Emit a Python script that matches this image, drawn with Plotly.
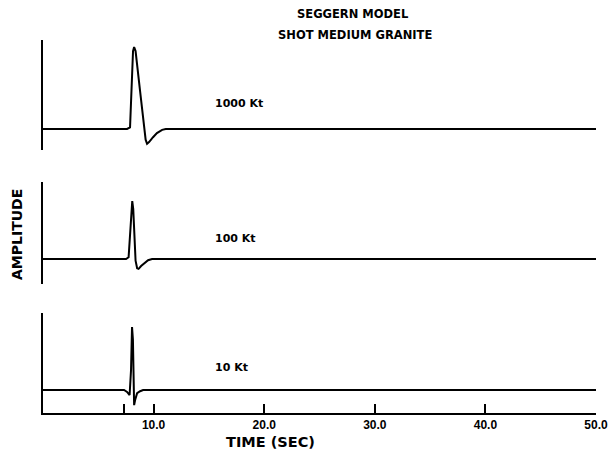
import plotly.graph_objects as go

# ---- data (normalized amplitude, peak = 1) ----
time_1000 = [0, 7.60, 7.87, 8.00, 8.14, 8.24, 8.37, 8.78, 9.14, 9.28, 9.41, 9.59, 9.95, 10.3, 10.77, 11.1, 50]
amp_1000  = [0, 0.00, 0.02, 0.49, 0.95, 1.00, 0.95, 0.46, 0.03, -0.13, -0.18, -0.16, -0.10, -0.05, -0.01, 0.0, 0]

time_100 = [0, 7.51, 7.74, 7.87, 8.00, 8.07, 8.16, 8.28, 8.37, 8.51, 8.64, 8.87, 9.14, 9.50, 9.86, 50]
amp_100  = [0, 0.00, 0.03, 0.43, 0.95, 1.00, 0.86, 0.26, -0.03, -0.16, -0.17, -0.12, -0.07, -0.02, 0.0, 0]

time_10 = [0, 7.33, 7.60, 7.83, 7.96, 8.05, 8.13, 8.17, 8.24, 8.33, 8.51, 8.78, 9.05, 50]
amp_10  = [0, 0.00, -0.03, -0.08, 0.32, 1.00, 0.80, -0.08, -0.24, -0.16, -0.05, -0.02, 0.0, 0]

series_labels = ["1000 Kt", "100 Kt", "10 Kt"]
tick_vals = [7.3, 10, 20, 30, 40, 50]
tick_text = ["", "10.0", "20.0", "30.0", "40.0", "50.0"]

FONT = "DejaVu Sans"
TFONT = "Liberation Sans"
LW = 2

L, R, T, B = 43, 17, 38, 43
W, H = 613, 456
PW, PH = W - L - R, H - T - B   # plot area size (553 x 375)

def px_x(x):   # page pixel -> paper x
    return (x - 43) / PW

def px_y(y):   # page pixel -> paper y
    return (413 - y) / PH

fig = go.Figure()
series = [(time_1000, amp_1000, "y"), (time_100, amp_100, "y2"), (time_10, amp_10, "y3")]
for t, a, ya in series:
    fig.add_trace(go.Scatter(x=t, y=a, mode="lines", xaxis="x", yaxis=ya,
                             line=dict(color="black", width=LW), hoverinfo="skip"))

yax = dict(showline=True, linecolor="black", linewidth=LW, showticklabels=False,
           ticks="", showgrid=False, zeroline=False, anchor="x", fixedrange=True,
           automargin=False)

fig.update_layout(
    template="none",
    width=W, height=H,
    margin=dict(l=L, r=R, t=T, b=B, pad=0),
    paper_bgcolor="white", plot_bgcolor="white",
    showlegend=False,
    xaxis=dict(range=[0, 50], showline=True, linecolor="black", linewidth=LW,
               ticks="inside", ticklen=9, tickwidth=LW, tickcolor="black",
               tickvals=tick_vals, ticktext=["<b>%s</b>" % s if s else "" for s in tick_text],
               tickfont=dict(family=TFONT, size=12, color="black"),
               showgrid=False, zeroline=False, anchor="y3", automargin=False,
               fixedrange=True),
    yaxis=dict(domain=[px_y(150), px_y(40)], range=[-0.256, 1.085], **yax),
    yaxis2=dict(domain=[px_y(284), px_y(182)], range=[-0.431, 1.328], **yax),
    yaxis3=dict(domain=[0.0, px_y(313)], range=[-0.365, 1.222], **yax),
)

ann = []
ann.append(dict(text="<b>SEGGERN MODEL</b>", x=px_x(353), y=px_y(14),
                xref="paper", yref="paper", xanchor="center", yanchor="middle", showarrow=False,
                font=dict(family=FONT, size=11.5, color="black")))
ann.append(dict(text="<b>SHOT MEDIUM GRANITE</b>", x=px_x(355), y=px_y(35),
                xref="paper", yref="paper", xanchor="center", yanchor="middle", showarrow=False,
                font=dict(family=FONT, size=11.5, color="black")))
label_y = [103, 238, 367]
for lab, ly in zip(series_labels, label_y):
    ann.append(dict(text="<b>%s</b>" % lab, x=px_x(213), y=px_y(ly), xref="paper", yref="paper",
                    xanchor="left", yanchor="middle", showarrow=False,
                    font=dict(family=FONT, size=11, color="black")))
ann.append(dict(text="<b>TIME (SEC)</b>", x=px_x(270), y=px_y(442),
                xref="paper", yref="paper", xanchor="center", yanchor="middle", showarrow=False,
                font=dict(family=FONT, size=14.5, color="black")))
ann.append(dict(text="<b>AMPLITUDE</b>", x=px_x(17), y=px_y(235),
                xref="paper", yref="paper", xanchor="center", yanchor="middle",
                showarrow=False, textangle=-90,
                font=dict(family=FONT, size=14, color="black")))
fig.update_layout(annotations=ann)

fig.write_html("out.html",
               config={"displayModeBar": False, "staticPlot": True},
               post_script="document.body.style.margin='0';document.body.style.overflow='hidden';")
